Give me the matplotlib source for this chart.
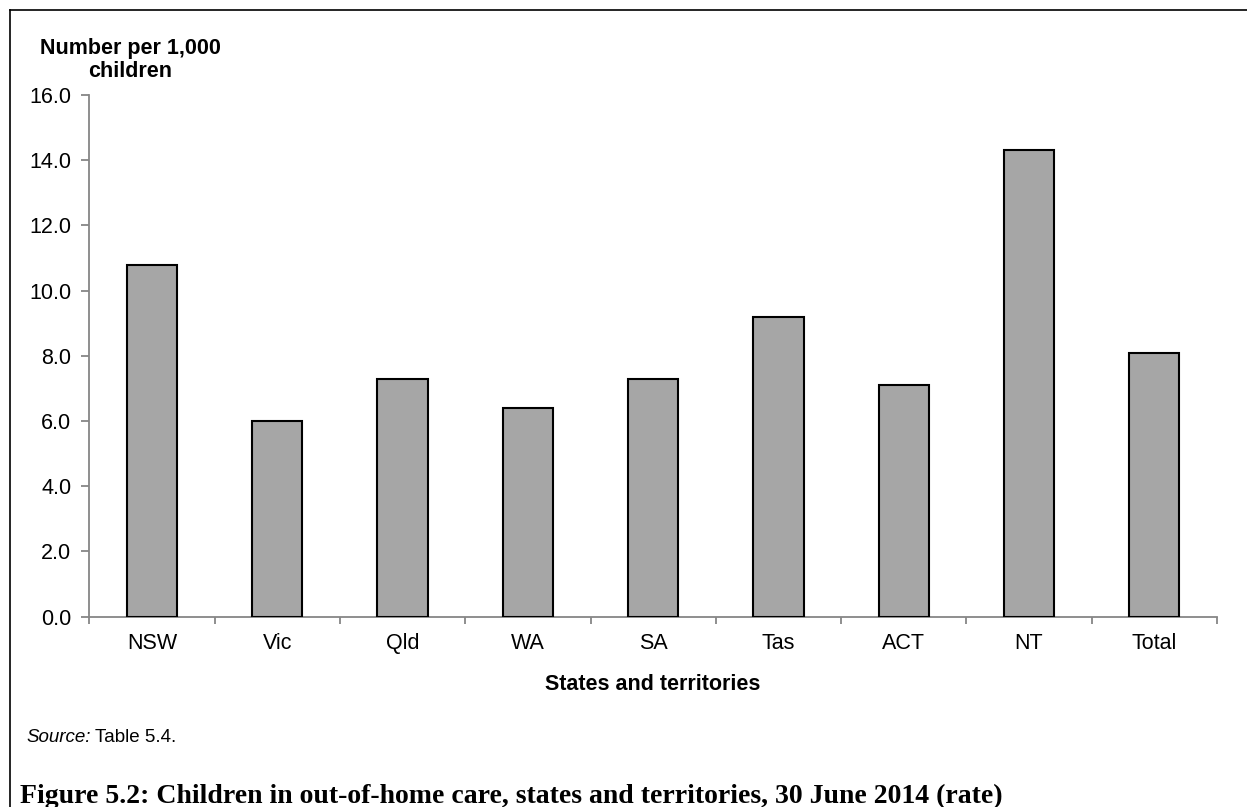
import matplotlib.pyplot as plt
import numpy as np
from matplotlib.lines import Line2D

# out-of-home care rates per 1,000 children, 30 June 2014
states = ['NSW', 'Vic', 'Qld', 'WA', 'SA', 'Tas', 'ACT', 'NT', 'Total']
rates = [10.8, 6.0, 7.3, 6.4, 7.3, 9.2, 7.1, 14.3, 8.1]
y_ticks = [0, 2, 4, 6, 8, 10, 12, 14, 16]

plt.rcParams['font.family'] = ['Liberation Sans', 'DejaVu Sans']

W, H = 1247, 807
fig = plt.figure(figsize=(W / 100, H / 100), dpi=100)
ax = fig.add_axes([89.3 / W, 1 - 616.7 / H, (1217 - 89.3) / W, (616.7 - 95) / H])

x = np.arange(len(states))
ax.bar(x, rates, width=0.4, color='#a6a6a6', edgecolor='black', linewidth=1.5, zorder=3)

axis_grey = '#868686'
fs = 15.5
ax.set_ylim(0, 16)
ax.set_xlim(-0.5, len(states) - 0.5)
ax.set_yticks(y_ticks)
ax.set_yticklabels([f'{v:.1f}' for v in y_ticks], fontsize=fs)
ax.tick_params(axis='y', length=6, width=1.3, color=axis_grey, pad=7)

# category boundaries carry the ticks, names sit in between
ax.set_xticks(np.arange(-0.5, len(states), 1.0))
ax.set_xticklabels([])
ax.set_xticks(x, minor=True)
ax.set_xticklabels(states, minor=True, fontsize=fs)
ax.tick_params(axis='x', which='major', length=5, width=1.3, color=axis_grey)
ax.tick_params(axis='x', which='minor', length=0, pad=12)

for side in ['top', 'right']:
    ax.spines[side].set_visible(False)
for side in ['left', 'bottom']:
    ax.spines[side].set_color(axis_grey)
    ax.spines[side].set_linewidth(1.3)

fig.text(130 / W, 1 - 60 / H, 'Number per 1,000\nchildren', ha='center', va='center',
         fontsize=fs, fontweight='bold', linespacing=1.15)
fig.text(653 / W, 1 - 684 / H, 'States and territories', ha='center', va='center',
         fontsize=fs, fontweight='bold')

src = fig.text(26 / W, 1 - 738 / H, 'Source:', ha='left', va='center', fontsize=13.5, style='italic')
fig.canvas.draw()
bb = src.get_window_extent()
fig.text((bb.x1 + 4) / W, 1 - 738 / H, 'Table 5.4.', ha='left', va='center', fontsize=13.5)

fig.text(20 / W, 1 - 796 / H,
         'Figure 5.2: Children in out-of-home care, states and territories, 30 June 2014 (rate)',
         ha='left', va='center', fontsize=20, fontweight='bold', family='Liberation Serif')

# frame round the figure (only left and top edges fall inside the picture)
fig.add_artist(Line2D([10 / W, 10 / W], [0, 1 - 10 / H], color='black', lw=1.2))
fig.add_artist(Line2D([10 / W, 1], [1 - 10 / H, 1 - 10 / H], color='black', lw=1.2))

fig.savefig('out.png', dpi=100)
